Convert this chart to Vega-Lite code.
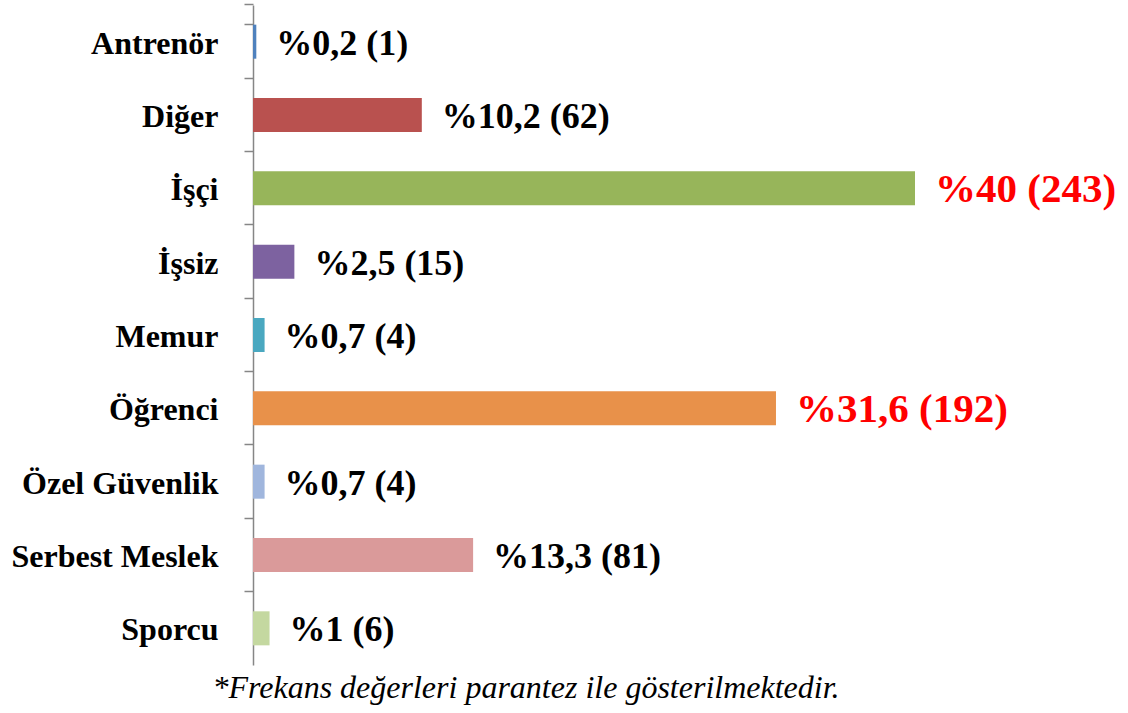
{
  "$schema": "https://vega.github.io/schema/vega-lite/v6.json",
  "width": 662,
  "height": 660,
  "autosize": {"type": "none"},
  "padding": {"left": 253, "top": 5, "right": 213, "bottom": 48},
  "background": "white",
  "config": {"view": {"stroke": null}, "font": "Liberation Serif"},
  "title": {
    "text": "*Frekans değerleri parantez ile gösterilmektedir.",
    "orient": "bottom",
    "anchor": "middle",
    "dx": -58,
    "offset": 8,
    "baseline": "top",
    "font": "Liberation Serif",
    "fontStyle": "italic",
    "fontWeight": "normal",
    "fontSize": 32,
    "color": "#000000"
  },
  "data": {
    "values": [
      {"meslek": "Antrenör", "yuzde": 0.2, "etiket": "%0,2 (1)"},
      {"meslek": "Diğer", "yuzde": 10.2, "etiket": "%10,2 (62)"},
      {"meslek": "İşçi", "yuzde": 40, "etiket": "%40 (243)"},
      {"meslek": "İşsiz", "yuzde": 2.5, "etiket": "%2,5 (15)"},
      {"meslek": "Memur", "yuzde": 0.7, "etiket": "%0,7 (4)"},
      {"meslek": "Öğrenci", "yuzde": 31.6, "etiket": "%31,6 (192)"},
      {"meslek": "Özel Güvenlik", "yuzde": 0.7, "etiket": "%0,7 (4)"},
      {"meslek": "Serbest Meslek", "yuzde": 13.3, "etiket": "%13,3 (81)"},
      {"meslek": "Sporcu", "yuzde": 1, "etiket": "%1 (6)"}
    ]
  },
  "encoding": {
    "y": {
      "field": "meslek",
      "type": "nominal",
      "sort": null,
      "scale": {"paddingInner": 0.536, "paddingOuter": 0.268},
      "axis": {
        "title": null,
        "domainColor": "#868686",
        "domainWidth": 1.5,
        "tickColor": "#868686",
        "tickSize": 9,
        "tickWidth": 1.5,
        "bandPosition": -0.5776,
        "tickExtra": true,
        "labelFont": "Liberation Serif",
        "labelFontWeight": "bold",
        "labelFontSize": 32,
        "labelColor": "#000000",
        "labelPadding": 26,
        "labelLimit": 300,
        "labelOffset": 2
      }
    },
    "x": {
      "field": "yuzde",
      "type": "quantitative",
      "scale": {"domain": [0, 40], "nice": false},
      "axis": null
    }
  },
  "layer": [
    {
      "mark": {"type": "bar"},
      "encoding": {
        "color": {
          "field": "meslek",
          "type": "nominal",
          "sort": null,
          "legend": null,
          "scale": {
            "domain": ["Antrenör", "Diğer", "İşçi", "İşsiz", "Memur", "Öğrenci", "Özel Güvenlik", "Serbest Meslek", "Sporcu"],
            "range": ["#4F81BD", "#B9514F", "#97B55A", "#7D62A0", "#4AA8C0", "#E8914A", "#A0B6DD", "#DA9A9A", "#C4D8A0"]
          }
        }
      }
    },
    {
      "mark": {
        "type": "text",
        "align": "left",
        "baseline": "middle",
        "dx": 20,
        "dy": 2,
        "font": "Liberation Serif",
        "fontWeight": "bold"
      },
      "encoding": {
        "text": {"field": "etiket"},
        "color": {"condition": {"test": "datum.yuzde > 30", "value": "#FF0000"}, "value": "#000000"},
        "size": {"condition": {"test": "datum.yuzde > 30", "value": 41}, "value": 36}
      }
    }
  ]
}
